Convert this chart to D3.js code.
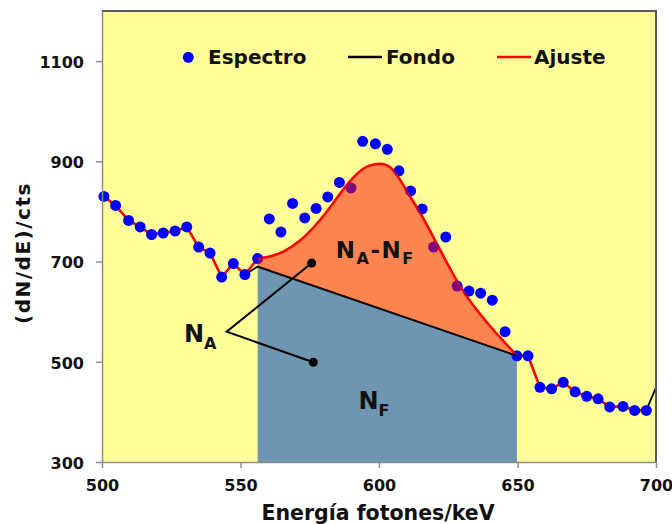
<!DOCTYPE html>
<html><head><meta charset="utf-8">
<script src="https://cdn.jsdelivr.net/npm/d3@7"></script>
<style>body{margin:0;background:#fff}svg{display:block}</style>
</head><body>
<svg id="c" width="672" height="524"></svg>
<script>
// ---- data ----
const energies = [500.7, 504.9, 509.6, 513.8, 517.9, 522.1, 526.4, 530.6, 534.9, 539.0,
  543.2, 547.4, 551.6, 556.2, 560.4, 564.6, 568.8, 573.2, 577.3, 581.5,
  585.7, 589.9, 594.1, 598.7, 603.0, 607.2, 611.4, 615.6, 619.7, 624.1,
  628.2, 632.5, 636.7, 640.9, 645.5, 649.8, 653.8, 658.1, 662.3, 666.5,
  670.8, 675.0, 679.1, 683.3, 688.1, 692.3, 696.5];
const counts = [830, 812, 782, 769, 754, 757, 761, 769, 729, 717,
  669, 696, 674, 706, 785, 759, 816, 787, 806, 829,
  858, 847, 940, 935, 924, 881, 841, 805, 729, 749,
  651, 641, 637, 623, 560, 512, 512, 449, 446, 459,
  440, 431, 426, 410, 411, 403, 403];
// fitted curve (Ajuste) across the peak
const fitE = [556.2, 560.6, 565.5, 571.5, 577.5, 582.3, 585.9, 589.5, 593.1, 596.8,
  600.4, 604.0, 607.0, 611.2, 615.6, 619.7, 624.1, 628.2, 632.5, 636.7,
  640.9, 645.5, 649.8];
const fitV = [706, 710, 720, 742, 775, 808, 835, 860, 880, 892,
  895, 888, 868, 830, 790, 748, 702, 661, 624, 594,
  566, 538, 512];
// background (Fondo) straight segment under the peak
const bgE = [556.2, 649.8];
const bgV = [690, 512];
// background continues past the right edge
const tailE = [700.7];
const tailV = [458];
const xTicks = [500, 550, 600, 650, 700];
const yTicks = [300, 500, 700, 900, 1100];
const legendLabels = ["Espectro", "Fondo", "Ajuste"];
const areaLabels = ["N", "A", "F"];
const xTitle = "Energía fotones/keV";
const yTitle = "(dN/dE)/cts";

// ---- layout ----
const svg = d3.select("#c");
const P = {l: 102, r: 656, t: 11, b: 462};
const x = d3.scaleLinear().domain([500, 700]).range([P.l, P.r]);
const y = d3.scaleLinear().domain([300, 1200]).range([P.b, P.t]);
const FONT = "'DejaVu Sans', Verdana, sans-serif";

svg.append("defs").append("clipPath").attr("id", "clip")
  .append("rect").attr("x", P.l).attr("y", P.t).attr("width", P.r - P.l).attr("height", P.b - P.t);

svg.append("rect").attr("x", P.l).attr("y", P.t).attr("width", P.r - P.l).attr("height", P.b - P.t)
  .attr("fill", "#FFFF99");

const pts = energies.map((e, i) => [e, counts[i]]);
const leftPts = pts.filter(p => p[0] <= bgE[0] + 0.01);
const rightPts = pts.filter(p => p[0] >= bgE[1] - 0.01);
const fitPts = fitE.map((e, i) => [e, fitV[i]]);
const bgPts = bgE.map((e, i) => [e, bgV[i]]);
const tailPts = tailE.map((e, i) => [e, tailV[i]]);
const bgLine = d3.scaleLinear().domain(bgE).range(bgV);

const g = svg.append("g").attr("clip-path", "url(#clip)");

// N_F area (blue)
g.append("path").datum(bgPts)
  .attr("d", d3.area().x(d => x(d[0])).y0(y(300)).y1(d => y(d[1])))
  .attr("fill", "#6E96B3");

const line = d3.line().x(d => x(d[0])).y(d => y(d[1]));
const smooth = d3.line().x(d => x(d[0])).y(d => y(d[1])).curve(d3.curveMonotoneX);

// Fondo polyline
const fondoPts = leftPts.filter(p => p[0] < bgE[0] - 0.01)
  .concat(bgPts)
  .concat(rightPts.filter(p => p[0] > bgE[1] + 0.01))
  .concat(tailPts);
g.append("path").datum(fondoPts).attr("d", line)
  .attr("fill", "none").attr("stroke", "#000").attr("stroke-width", 1.8);

// Ajuste
g.append("path").datum(leftPts).attr("d", line)
  .attr("fill", "none").attr("stroke", "#FF0000").attr("stroke-width", 2.5);
g.append("path").datum(rightPts).attr("d", line)
  .attr("fill", "none").attr("stroke", "#FF0000").attr("stroke-width", 2.5);
g.append("path").datum(fitPts).attr("d", smooth)
  .attr("fill", "none").attr("stroke", "#FF0000").attr("stroke-width", 2.5);

// Espectro dots
svg.append("g").selectAll("circle").data(pts).join("circle")
  .attr("cx", d => x(d[0])).attr("cy", d => y(d[1])).attr("r", 5.5)
  .attr("fill", "#0000FF");

// N_A - N_F area (semi-transparent orange over the dots)
const g2 = svg.append("g").attr("clip-path", "url(#clip)");
g2.append("path").datum(fitPts)
  .attr("d", d3.area().x(d => x(d[0])).y0(d => y(bgLine(d[0]))).y1(d => y(d[1])).curve(d3.curveMonotoneX))
  .attr("fill", "rgb(255,11,7)").attr("fill-opacity", 0.5);
g2.append("path").datum(fitPts).attr("d", smooth)
  .attr("fill", "none").attr("stroke", "#FF0000").attr("stroke-width", 2.2).attr("stroke-opacity", 0.6);
// background segment on top
g2.append("path").datum(bgPts).attr("d", line)
  .attr("fill", "none").attr("stroke", "#111").attr("stroke-width", 1.8);

// ---- annotations ----
const naVertex = [545.0, 560];
const naEnds = [[575.7, 697], [576.3, 499]];
svg.append("path")
  .attr("d", line([naEnds[0], naVertex, naEnds[1]]))
  .attr("fill", "none").attr("stroke", "#000").attr("stroke-width", 2);
svg.selectAll(".nadot").data(naEnds).join("circle").attr("class", "nadot")
  .attr("cx", d => x(d[0])).attr("cy", d => y(d[1])).attr("r", 4.5).attr("fill", "#000");

function nLabel(e, v, parts, big, small, ls) {
  const t = svg.append("text").attr("x", x(e)).attr("y", y(v))
    .attr("font-family", FONT).attr("font-weight", "bold").attr("fill", "#111")
    .attr("letter-spacing", ls);
  parts.forEach(p => {
    t.append("tspan").attr("font-size", p.sub ? small : big)
      .attr("dy", p.dy || 0).text(p.t);
  });
}
nLabel(529.6, 540, [{t: areaLabels[0]}, {t: areaLabels[1], sub: true, dy: 7}], 24, 16, 0);
nLabel(592.6, 406.6, [{t: areaLabels[0]}, {t: areaLabels[2], sub: true, dy: 7}], 24, 16, 0);
nLabel(584.4, 707, [{t: areaLabels[0]}, {t: areaLabels[1], sub: true, dy: 6},
  {t: "-", dy: -6}, {t: areaLabels[0]}, {t: areaLabels[2], sub: true, dy: 6}], 23, 16, 1.5);

// ---- axes ----
const yAxis = svg.append("g").attr("transform", `translate(${P.l},0)`)
  .call(d3.axisLeft(y).tickValues(yTicks).tickFormat(d3.format("d")).tickSize(6).tickSizeOuter(0).tickPadding(12));
const xAxis = svg.append("g").attr("transform", `translate(0,${P.b})`)
  .call(d3.axisBottom(x).tickValues(xTicks).tickFormat(d3.format("d")).tickSize(6).tickSizeOuter(0).tickPadding(12));
[yAxis, xAxis].forEach(a => {
  a.select(".domain").attr("stroke", "#8c8c8c").attr("stroke-width", 1.5);
  a.selectAll(".tick line").attr("stroke", "#8c8c8c").attr("stroke-width", 1.5);
  a.selectAll(".tick text").attr("font-family", FONT).attr("font-weight", "bold")
    .attr("font-size", 16).attr("fill", "#111");
});
yAxis.selectAll(".tick text").attr("dy", "0.4em");

// top & right borders
svg.append("path")
  .attr("d", `M${P.l},${P.t}H${P.r}V${P.b}`)
  .attr("fill", "none").attr("stroke", "#5a5a5a").attr("stroke-width", 2);

// ---- titles ----
svg.append("text").attr("x", 378).attr("y", 520).attr("text-anchor", "middle")
  .attr("font-family", FONT).attr("font-weight", "bold").attr("font-size", 20.5)
  .attr("fill", "#111").text(xTitle);
svg.append("text").attr("transform", "translate(30,253) rotate(-90)").attr("text-anchor", "middle")
  .attr("font-family", FONT).attr("font-weight", "bold").attr("font-size", 20)
  .attr("letter-spacing", 1.5).attr("fill", "#111").text(yTitle);

// ---- legend ----
const lg = svg.append("g").attr("font-family", FONT).attr("font-weight", "bold")
  .attr("font-size", 20).attr("fill", "#111");
lg.append("circle").attr("cx", 188.3).attr("cy", 57.3).attr("r", 5.5).attr("fill", "#0000FF");
lg.append("text").attr("x", 208).attr("y", 64).text(legendLabels[0]);
lg.append("line").attr("x1", 348).attr("x2", 382).attr("y1", 57).attr("y2", 57)
  .attr("stroke", "#000").attr("stroke-width", 2.5);
lg.append("text").attr("x", 386).attr("y", 64).text(legendLabels[1]);
lg.append("line").attr("x1", 497).attr("x2", 531).attr("y1", 57).attr("y2", 57)
  .attr("stroke", "#FF0000").attr("stroke-width", 2.5);
lg.append("text").attr("x", 534).attr("y", 64).text(legendLabels[2]);
</script>
</body></html>
